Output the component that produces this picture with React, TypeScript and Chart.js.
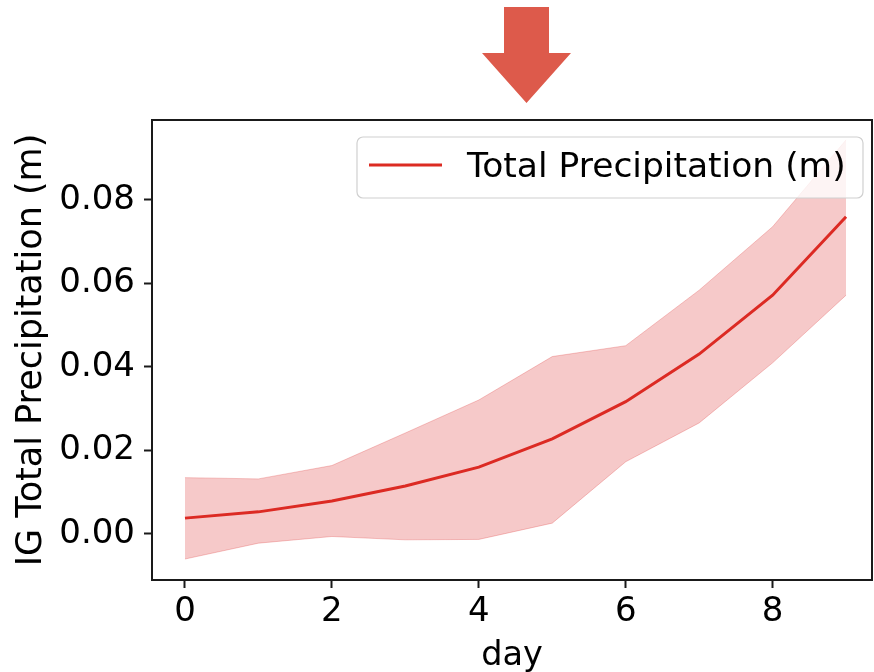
import React, { useEffect, useRef } from "react";
import { Chart, registerables } from "chart.js";

Chart.register(...registerables);

const days = [0, 1, 2, 3, 4, 5, 6, 7, 8, 9];
const meanValues = [0.0038, 0.0053, 0.0079, 0.0115, 0.016, 0.0228, 0.0317, 0.0431, 0.0572, 0.076];
const upperValues = [0.0135, 0.0132, 0.0164, 0.0242, 0.0321, 0.0425, 0.0451, 0.0584, 0.0736, 0.0944];
const lowerValues = [-0.006, -0.0022, -0.0006, -0.0014, -0.0013, 0.0026, 0.0173, 0.0266, 0.041, 0.0572];
const seriesLabel = "Total Precipitation (m)";
const xTitle = "day";
const yTitle = "IG Total Precipitation (m)";

const FONT = "'DejaVu Sans', sans-serif";
const LINE_COLOR = "#dc2b22";
const FILL_COLOR = "rgba(220,40,40,0.25)";

const framePlugin = {
  id: "frameAndLegend",
  afterDatasetsDraw(chart: any) {
    const { ctx, chartArea } = chart;
    const { left, right, top, bottom } = chartArea;
    ctx.save();
    ctx.strokeStyle = "#1a1a1a";
    ctx.lineWidth = 2;
    ctx.strokeRect(left, top, right - left, bottom - top);

    // legend box (upper right, inside plot)
    const bw = 506;
    const bh = 61;
    const bx = right - 9 - bw;
    const by = top + 17;
    const r = 6;
    ctx.beginPath();
    ctx.moveTo(bx + r, by);
    ctx.lineTo(bx + bw - r, by);
    ctx.arcTo(bx + bw, by, bx + bw, by + r, r);
    ctx.lineTo(bx + bw, by + bh - r);
    ctx.arcTo(bx + bw, by + bh, bx + bw - r, by + bh, r);
    ctx.lineTo(bx + r, by + bh);
    ctx.arcTo(bx, by + bh, bx, by + bh - r, r);
    ctx.lineTo(bx, by + r);
    ctx.arcTo(bx, by, bx + r, by, r);
    ctx.closePath();
    ctx.fillStyle = "rgba(255,255,255,0.8)";
    ctx.fill();
    ctx.strokeStyle = "#d0d0d0";
    ctx.lineWidth = 1.2;
    ctx.stroke();

    ctx.strokeStyle = LINE_COLOR;
    ctx.lineWidth = 3;
    ctx.beginPath();
    ctx.moveTo(bx + 12, by + 28);
    ctx.lineTo(bx + 85, by + 28);
    ctx.stroke();

    ctx.fillStyle = "#000";
    ctx.font = `34.5px ${FONT}`;
    ctx.textBaseline = "alphabetic";
    ctx.textAlign = "left";
    ctx.fillText(seriesLabel, bx + 110, by + 40);
    ctx.restore();
  },
};

export default function App() {
  const canvasRef = useRef<HTMLCanvasElement | null>(null);

  useEffect(() => {
    const canvas = canvasRef.current;
    if (!canvas) return;
    const toPts = (vals: number[]) => days.map((d, i) => ({ x: d, y: vals[i] }));
    const chart = new Chart(canvas, {
      type: "line",
      data: {
        datasets: [
          {
            label: "upper",
            data: toPts(upperValues),
            borderColor: FILL_COLOR,
            borderWidth: 1,
            backgroundColor: FILL_COLOR,
            pointRadius: 0,
            fill: "+1",
            tension: 0,
          },
          {
            label: "lower",
            data: toPts(lowerValues),
            borderColor: FILL_COLOR,
            borderWidth: 1,
            backgroundColor: FILL_COLOR,
            pointRadius: 0,
            fill: false,
            tension: 0,
          },
          {
            label: seriesLabel,
            data: toPts(meanValues),
            borderColor: LINE_COLOR,
            borderWidth: 3,
            pointRadius: 0,
            fill: false,
            tension: 0,
          },
        ],
      },
      options: {
        responsive: false,
        animation: false,
        devicePixelRatio: 1,
        layout: { padding: { top: 120, right: 2, left: 0, bottom: 0 } },
        plugins: {
          legend: { display: false },
          tooltip: { enabled: false },
        },
        scales: {
          x: {
            type: "linear",
            min: -0.449,
            max: 9.353,
            afterFit: (s: any) => {
              s.height = 92;
            },
            border: { display: false },
            grid: {
              display: true,
              drawOnChartArea: false,
              drawTicks: true,
              tickLength: 8,
              tickColor: "#1a1a1a",
              tickWidth: 2,
            },
            ticks: {
              stepSize: 2,
              includeBounds: false,
              padding: 4,
              color: "#000",
              font: { family: FONT, size: 34 },
              maxRotation: 0,
              callback: (v: any) => String(v),
            },
            title: {
              display: true,
              text: xTitle,
              color: "#000",
              font: { family: FONT, size: 33.5 },
              padding: { top: 0, bottom: -4 },
            },
          },
          y: {
            type: "linear",
            min: -0.01102,
            max: 0.09916,
            afterFit: (s: any) => {
              s.width = 152;
            },
            border: { display: false },
            grid: {
              display: true,
              drawOnChartArea: false,
              drawTicks: true,
              tickLength: 8,
              tickColor: "#1a1a1a",
              tickWidth: 2,
            },
            ticks: {
              stepSize: 0.02,
              includeBounds: false,
              padding: 9,
              color: "#000",
              font: { family: FONT, size: 34 },
              callback: (v: any) => Number(v).toFixed(2),
            },
            title: {
              display: true,
              text: yTitle,
              color: "#000",
              font: { family: FONT, size: 35 },
              padding: { top: 11, bottom: 0 },
            },
          },
        },
      },
      plugins: [framePlugin],
    });
    return () => chart.destroy();
  }, []);

  return (
    <div style={{ position: "absolute", left: 0, top: 0, width: 874, height: 672, background: "#fff" }}>
      <svg
        width={874}
        height={120}
        style={{ position: "absolute", left: 0, top: 0 }}
      >
        <polygon
          points="504,7 549,7 549,53 571,53 526.5,103 482,53 504,53"
          fill="#dd5a4b"
        />
      </svg>
      <canvas
        ref={canvasRef}
        width={874}
        height={672}
        style={{ position: "absolute", left: 0, top: 0, width: 874, height: 672 }}
      />
    </div>
  );
}
